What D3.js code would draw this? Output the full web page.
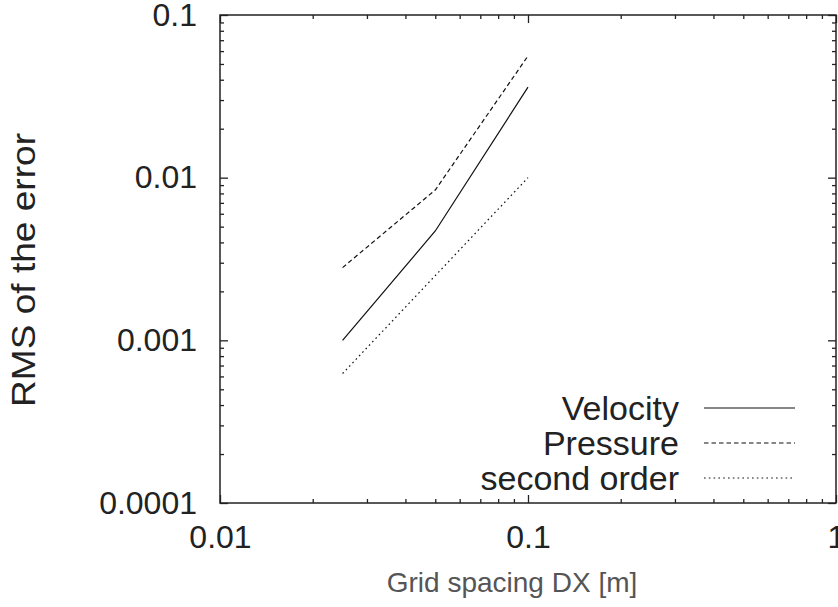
<!DOCTYPE html>
<html>
<head>
<meta charset="utf-8">
<script src="https://cdn.jsdelivr.net/npm/d3@7"></script>
<style>
  html, body { margin: 0; padding: 0; background: #fff; }
  svg { display: block; }
  text { font-family: "Liberation Sans", Arial, Helvetica, sans-serif; }
</style>
</head>
<body>
<script>
// ---- data ----
const dx = [0.025, 0.05, 0.1];
const velocity = [0.001, 0.0047, 0.036];
const pressure = [0.0028, 0.0084, 0.056];
const secondOrder = [0.000625, 0.0025, 0.01];
const seriesNames = ["Velocity", "Pressure", "second order"];
const xMajorTicks = [0.01, 0.1, 1];
const xTickLabels = ["0.01", "0.1", "1"];
const yMajorTicks = [0.0001, 0.001, 0.01, 0.1];
const yTickLabels = ["0.0001", "0.001", "0.01", "0.1"];
const xTitle = "Grid spacing DX [m]";
const yTitle = "RMS of the error";

// ---- layout ----
const W = 838, H = 607;
const L = 220, R = 836, T = 15, B = 503;
const dashes = [null, "4.5,3", "1.6,3.2"];

const svg = d3.select("body").append("svg").attr("width", W).attr("height", H);
svg.append("rect").attr("width", W).attr("height", H).attr("fill", "#fff");

const x = d3.scaleLog().domain([0.01, 1]).range([L, R]);
const y = d3.scaleLog().domain([0.0001, 0.1]).range([B, T]);

function minorTicks(majors) {
  const out = [];
  for (let i = 0; i < majors.length - 1; i++)
    for (let k = 2; k <= 9; k++) out.push(majors[i] * k);
  return out;
}
const xMinor = minorTicks(xMajorTicks);
const yMinor = minorTicks(yMajorTicks);

const axisColor = "#222";
function styleAxis(g) {
  g.select(".domain").remove();
  g.selectAll(".tick line").attr("stroke", axisColor).attr("stroke-width", 1.3);
  g.selectAll(".tick text").attr("fill", "#222").attr("font-size", 32)
    .attr("font-family", "Liberation Sans, Arial, sans-serif");
}

// bottom
svg.append("g").attr("transform", `translate(0,${B})`)
  .call(d3.axisBottom(x).tickValues(xMajorTicks).tickSize(-8).tickPadding(22)
    .tickFormat((d, i) => xTickLabels[i])).call(styleAxis);
svg.append("g").attr("transform", `translate(0,${B})`)
  .call(d3.axisBottom(x).tickValues(xMinor).tickSize(-4).tickFormat("")).call(styleAxis);
// top mirror
svg.append("g").attr("transform", `translate(0,${T})`)
  .call(d3.axisTop(x).tickValues(xMajorTicks).tickSize(-8).tickFormat("")).call(styleAxis);
svg.append("g").attr("transform", `translate(0,${T})`)
  .call(d3.axisTop(x).tickValues(xMinor).tickSize(-4).tickFormat("")).call(styleAxis);
// left
svg.append("g").attr("transform", `translate(${L},0)`)
  .call(d3.axisLeft(y).tickValues(yMajorTicks).tickSize(-8).tickPadding(23)
    .tickFormat((d, i) => yTickLabels[i])).call(styleAxis);
svg.append("g").attr("transform", `translate(${L},0)`)
  .call(d3.axisLeft(y).tickValues(yMinor).tickSize(-4).tickFormat("")).call(styleAxis);
// right mirror
svg.append("g").attr("transform", `translate(${R},0)`)
  .call(d3.axisRight(y).tickValues(yMajorTicks).tickSize(-8).tickFormat("")).call(styleAxis);
svg.append("g").attr("transform", `translate(${R},0)`)
  .call(d3.axisRight(y).tickValues(yMinor).tickSize(-4).tickFormat("")).call(styleAxis);

// frame
svg.append("rect").attr("x", L).attr("y", T).attr("width", R - L).attr("height", B - T)
  .attr("fill", "none").attr("stroke", axisColor).attr("stroke-width", 1.5);

// series
const allSeries = [velocity, pressure, secondOrder];
const line = d3.line().x(d => x(d[0])).y(d => y(d[1]));
allSeries.forEach((vals, i) => {
  svg.append("path")
    .datum(dx.map((v, j) => [v, vals[j]]))
    .attr("d", line)
    .attr("fill", "none")
    .attr("stroke", "#111")
    .attr("stroke-width", 1.2)
    .attr("stroke-dasharray", dashes[i]);
});

// legend
const legY = [408, 443, 478];
seriesNames.forEach((name, i) => {
  svg.append("text").attr("x", 679).attr("y", legY[i]).attr("dy", "0.36em")
    .attr("text-anchor", "end").attr("font-size", 34).attr("fill", "#222").text(name);
  svg.append("line").attr("x1", 704).attr("x2", 795).attr("y1", legY[i]).attr("y2", legY[i])
    .attr("stroke", "#111").attr("stroke-width", 1.2).attr("stroke-dasharray", dashes[i]);
});

// axis titles
svg.append("text").attr("x", 512).attr("y", 592).attr("text-anchor", "middle")
  .attr("font-size", 28).attr("fill", "#555").text(xTitle);
svg.append("text").attr("transform", "translate(35,270) rotate(-90)")
  .attr("text-anchor", "middle").attr("font-size", 33).attr("fill", "#222")
  .attr("textLength", 274).attr("lengthAdjust", "spacingAndGlyphs").text(yTitle);
</script>
</body>
</html>
